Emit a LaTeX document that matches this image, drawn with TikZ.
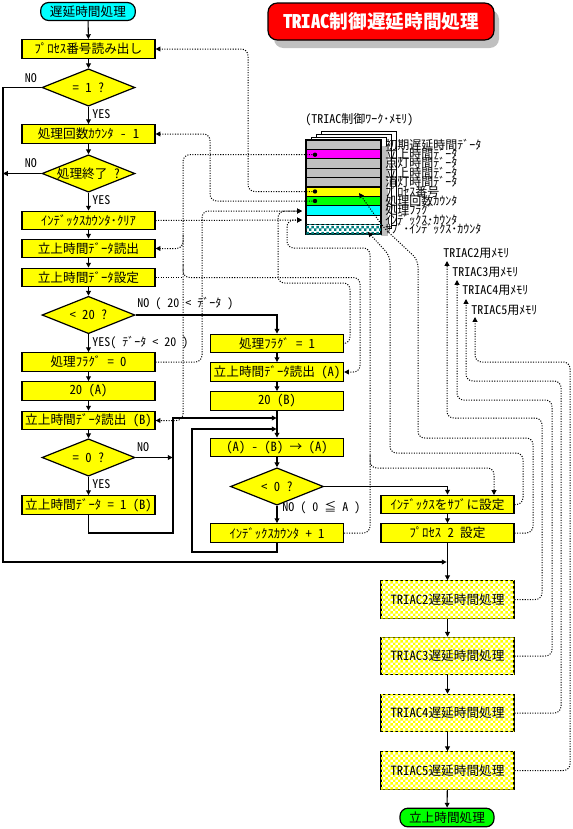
\documentclass[tikz,border=0pt]{standalone}
\usepackage{fontspec}
\setmainfont{Noto Sans CJK JP}[RawFeature=+hwid]
\usetikzlibrary{arrows.meta,shapes.geometric,patterns}
\pgfdeclarepatternformonly{mycheck}{\pgfpointorigin}{\pgfqpoint{4pt}{4pt}}{\pgfqpoint{4pt}{4pt}}{%
  \pgfpathrectangle{\pgfpointorigin}{\pgfqpoint{2pt}{2pt}}%
  \pgfpathrectangle{\pgfqpoint{2pt}{2pt}}{\pgfqpoint{2pt}{2pt}}%
  \pgfusepath{fill}}
\definecolor{cyanC}{RGB}{0,255,255}
\definecolor{yelC}{RGB}{255,255,0}
\definecolor{grnC}{RGB}{0,255,0}
\definecolor{magC}{RGB}{255,0,255}
\definecolor{grayC}{RGB}{192,192,192}
\definecolor{tealC}{RGB}{0,128,128}
\definecolor{redC}{RGB}{255,0,0}
\newcommand{\zw}[1]{\makebox[0pt]{#1}}
\begin{document}
\begin{tikzpicture}[x=0.75pt,y=-0.75pt,
  every node/.style={inner sep=0pt, font=\fontsize{9.5pt}{10pt}\selectfont},
  box/.style={draw, line width=0.9pt, fill=yelC, minimum width=99.75pt, minimum height=14pt},
  tbox/.style={draw, line width=0.9pt, fill=white, postaction={pattern=mycheck, pattern color=yelC}, minimum width=99.75pt, minimum height=28pt},
  dec/.style={draw, line width=0.9pt, fill=yelC, shape=diamond, minimum width=69.75pt, minimum height=28pt},
  term/.style={draw, line width=0.9pt, rounded corners=6pt, minimum width=71pt, minimum height=13.5pt},
  flow/.style={line width=0.8pt, -{Triangle[length=3.6pt,width=3.6pt]}},
  dots/.style={line width=0.75pt, dash pattern=on 0.8pt off 1.1pt, rounded corners=5pt},
  darr/.style={dots, -{Triangle[length=3.6pt,width=3.6pt]}},
  lbl/.style={font=\fontsize{9pt}{10pt}\selectfont},
  mlbl/.style={font=\fontsize{9pt}{9pt}\selectfont, anchor=west},
]
\useasboundingbox (0,0) rectangle (572,829);
\fill[white] (0,0) rectangle (572,829);

% ---------- title ----------
\fill[grayC, rounded corners=7pt] (274,10) rectangle (499,48);
\node[draw, line width=0.9pt, fill=redC, rounded corners=7pt, minimum width=169.5pt, minimum height=27.75pt,
      text=white, font=\fontsize{14pt}{16pt}\selectfont\bfseries] (title) at (381,21.5) {TRIAC制御遅延時間処理};

% ---------- column 1 ----------
\node[term, fill=cyanC] (st) at (88,11.5) {遅延時間処理};
\node[box] (p1) at (88.5,49) {ﾌﾟﾛｾｽ番号読み出し};
\node[dec] (d1) at (88.5,87.5) {\zw{= 1 ?}};
\node[box] (p2) at (88.5,134) {処理回数ｶｳﾝﾀ - 1};
\node[dec] (d2) at (88.5,173.5) {\zw{処理終了 ?}};
\node[box] (p3) at (88.5,220.5) {ｲﾝﾃﾞｯｸｽｶｳﾝﾀ･ｸﾘｱ};
\node[box] (p4) at (88.5,248.5) {立上時間ﾃﾞｰﾀ読出};
\node[box] (p5) at (88.5,277.5) {立上時間ﾃﾞｰﾀ設定};
\node[dec] (d3) at (88.5,315) {\zw{< 20 ?}};
\node[box] (p6) at (88.5,362) {処理ﾌﾗｸﾞ = 0};
\node[box] (p7) at (88.5,391) {20 (A)};
\node[box] (p8) at (88.5,420.5) {立上時間ﾃﾞｰﾀ読出 (B)};
\node[dec] (d4) at (88.5,457.5) {\zw{= 0 ?}};
\node[box] (p9) at (88.5,505) {立上時間ﾃﾞｰﾀ = 1 (B)};

% ---------- column 2 ----------
\node[box] (q1) at (277,343.5) {処理ﾌﾗｸﾞ = 1};
\node[box] (q2) at (277,372) {立上時間ﾃﾞｰﾀ読出 (A)};
\node[box] (q3) at (277,401) {20 (B)};
\node[box] (q4) at (277,447.5) {(A) - (B) → (A)};
\node[dec] (d5) at (277,486.5) {\zw{< 0 ?}};
\node[box] (q5) at (277,533) {ｲﾝﾃﾞｯｸｽｶｳﾝﾀ + 1};

% ---------- column 3 ----------
\node[box] (r1) at (447.5,504.5) {ｲﾝﾃﾞｯｸｽをｻﾌﾞに設定};
\node[box] (r2) at (447.5,533) {ﾌﾟﾛｾｽ 2 設定};
\node[tbox] (t2) at (447.5,599.5) {TRIAC2遅延時間処理};
\node[tbox] (t3) at (447.5,656) {TRIAC3遅延時間処理};
\node[tbox] (t4) at (447.5,713) {TRIAC4遅延時間処理};
\node[tbox] (t5) at (447.5,770.5) {TRIAC5遅延時間処理};
\node[term, fill=grnC, minimum width=70.5pt, minimum height=14pt] (en) at (447,817.5) {立上時間処理};

% ---------- solid flow ----------
\draw[flow] (st) -- (p1);
\draw[flow] (p1) -- (d1);
\draw[flow] (d1) -- (p2);
\draw[flow] (p2) -- (d2);
\draw[flow] (d2) -- (p3);
\draw[flow] (p3) -- (p4);
\draw[flow] (p4) -- (p5);
\draw[flow] (p5) -- (d3);
\draw[flow] (d3) -- (p6);
\draw[flow] (p6) -- (p7);
\draw[flow] (p7) -- (p8);
\draw[flow] (p8) -- (d4);
\draw[flow] (d4) -- (p9);
\coordinate (busL) at (3,562);
\coordinate (busR) at (446.6,562);
\draw[flow] (d1.west) -- (3,87.5) -- (busL) -- (busR);
\coordinate (noL) at (3,173.5);
\draw[flow] (d2.west) -- (noL);
\draw[flow] (d3.east) -| (q1.north);
\draw[flow] (q1) -- (q2);
\draw[flow] (q2) -- (q3);
\draw[flow] (q3) -- (q4);
\coordinate (j0) at (172.6,457.5);
\draw[flow] (d4.east) -- (j0);
\coordinate (j1) at (276.6,418);
\draw[flow] (p9.south) |- (173,533) -- (173,418) -- (j1);
\draw[flow] (q4) -- (d5);
\draw[flow] (d5) -- (q5);
\coordinate (j2) at (276.6,429);
\draw[flow] (q5.south) |- (192,552) -- (192,429) -- (j2);
\draw[flow] (d5.east) -| (r1.north);
\draw[flow] (r1) -- (r2);
\draw[flow] (r2) -- (t2);
\draw[flow] (t2) -- (t3);
\draw[flow] (t3) -- (t4);
\draw[flow] (t4) -- (t5);
\draw[flow] (t5) -- (en);

% ---------- flow labels ----------
\node[lbl] (l1) at (31,78) {NO};
\node[lbl, anchor=west] (l2) at (92,114) {YES};
\node[lbl] (l3) at (31,163) {NO};
\node[lbl, anchor=west] (l4) at (92,200) {YES};
\node[lbl, anchor=west] (l5) at (137,304) {NO ( 20 < ﾃﾞｰﾀ )};
\node[lbl, anchor=west] (l6) at (92,343) {YES( ﾃﾞｰﾀ < 20 )};
\node[lbl] (l7) at (143,447) {NO};
\node[lbl, anchor=west] (l8) at (92,484) {YES};
\node[lbl, anchor=west] (l9) at (282,508) {NO ( 0 ≦ A )};

% ---------- work memory ----------
\node[lbl, anchor=west] (cap) at (305,120) {(TRIAC制御ﾜｰｸ･ﾒﾓﾘ)};
\foreach \k in {3,2,1}
  \draw[fill=white, line width=0.7pt] (306+5*\k,140-3*\k) rectangle (381+5*\k,234-3*\k);
\fill[grayC] (381,146) rectangle (388,236);
\foreach \i/\c in {0/grayC,1/magC,2/grayC,3/grayC,4/grayC,5/yelC,6/grnC,7/cyanC,8/white}
  \draw[fill=\c, line width=0.8pt] (306,140+9.4*\i) rectangle (381,149.4+9.4*\i);
\draw[fill=white, postaction={pattern=mycheck, pattern color=tealC}, line width=0.8pt] (306,224.6) rectangle (381,234);
\node[mlbl] (m0) at (385,144.5) {初期遅延時間ﾃﾞｰﾀ};
\node[mlbl] (m1) at (385,153.9) {立上時間ﾃﾞｰﾀ};
\node[mlbl] (m2) at (385,163.3) {点灯時間ﾃﾞｰﾀ};
\node[mlbl] (m3) at (385,172.7) {立上時間ﾃﾞｰﾀ};
\node[mlbl] (m4) at (385,182.1) {消灯時間ﾃﾞｰﾀ};
\node[mlbl] (m5) at (385,191.5) {ﾌﾟﾛｾｽ番号};
\node[mlbl] (m6) at (385,200.9) {処理回数ｶｳﾝﾀ};
\node[mlbl] (m7) at (385,210.3) {処理ﾌﾗｸﾞ};
\node[mlbl] (m8) at (385,219.7) {ｲﾝﾃﾞｯｸｽ･ｶｳﾝﾀ};
\node[mlbl] (m9) at (385,229.1) {ｻﾌﾞ･ｲﾝﾃﾞｯｸｽ･ｶｳﾝﾀ};

\coordinate (mMag) at (315,154.7);
\coordinate (mYel) at (315,191.5);
\coordinate (mGrn) at (315,201);
\coordinate (mCyan) at (302,211);
\coordinate (mWht) at (302,220);
\coordinate (mPy) at (359,193);
\coordinate (mSub) at (368,232);
\foreach \p in {mMag,mYel,mGrn} \fill (\p) circle (2.2);

% ---------- TRIAC memory labels ----------
\node[lbl, anchor=west] (n2) at (443,253) {TRIAC2用ﾒﾓﾘ};
\node[lbl, anchor=west] (n3) at (452,272) {TRIAC3用ﾒﾓﾘ};
\node[lbl, anchor=west] (n4) at (462,290) {TRIAC4用ﾒﾓﾘ};
\node[lbl, anchor=west] (n5) at (471,310) {TRIAC5用ﾒﾓﾘ};
\coordinate (a2) at (447,261);
\coordinate (a3) at (457,280);
\coordinate (a4) at (466,299);
\coordinate (a5) at (475,317);

% ---------- dotted data links ----------
\draw[darr] (mYel) -- (248,191.5) -- (248,49) -- (p1.east);
\draw[darr] (mGrn) -- (210,201) -- (210,134) -- (p2.east);
\draw[darr] (mMag) -- (183,154.7) -- (183,420.5) -- (p8.east);
\draw[darr] (183,235) -- (183,248.5) -- (p4.east);
\draw[dots] (p5.east) -- (183,277.5);
\draw[darr] (183,265) -- (183,277.5) -- (360,277.5) -- (360,372) -- (q2.east);
\draw[darr] (p6.east) -- (202,362) -- (202,211) -- (mCyan);
\draw[darr] (q1.east) -- (350,343.5) -- (350,283) -- (278,283) -- (278,211) -- (mCyan);
\draw[darr] (p3.east) -- (mWht);
\draw[darr] (q5.east) -- (370,533) -- (370,248) -- (287,248) -- (287,220) -- (mWht);
\coordinate (r1in) at (494,495);
\draw[darr] (370,455) -- (370,468) -- (494,468) -- (r1in);
\draw[darr] (r2.east) -- (533,533) -- (533,438) -- (418,438) -- (418,260) -- (384,228) -- (mPy);
\draw[darr] (r1.east) -- (523,504.5) -- (523,453) -- (390,453) -- (390,256) -- (mSub);
\draw[darr] (t2.east) -- (542,599.5) -- (542,418) -- (447,418) -- (a2);
\draw[darr] (t3.east) -- (552,656) -- (552,400) -- (457,400) -- (a3);
\draw[darr] (t4.east) -- (561,713) -- (561,381) -- (466,381) -- (a4);
\draw[darr] (t5.east) -- (570,770.5) -- (570,362) -- (475,362) -- (a5);
\end{tikzpicture}
\end{document}
